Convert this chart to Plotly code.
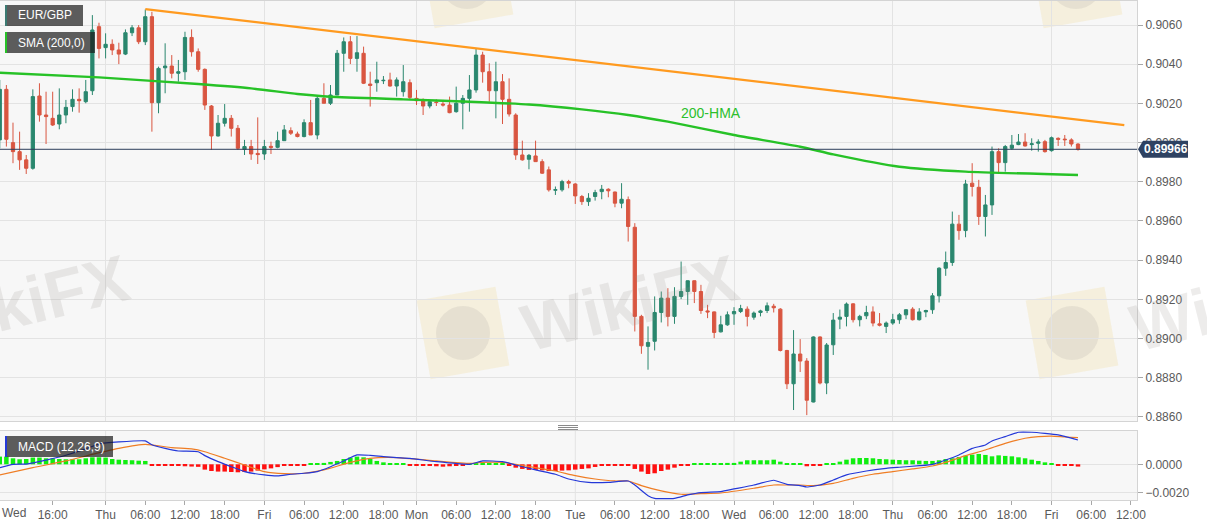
import math
import plotly.graph_objects as go

# ---------------- DATA ----------------
# candle index: 0 = Thu 00:00 (hourly candles, weekend removed)
candle_idx = list(range(-16, 148))

open_ = [
    0.90014, 0.90272, 0.90000, 0.89954, 0.89912, 0.89869, 0.90238, 0.90141, 0.90124, 0.90095,  # -16
    0.90141, 0.90184, 0.90221, 0.90209, 0.90265, 0.90592, 0.90485, 0.90502, 0.90473, 0.90452,  # -6
    0.90561, 0.90586, 0.90515, 0.90643, 0.90204, 0.90382, 0.90391, 0.90354, 0.90362, 0.90537,  # 4
    0.90464, 0.90374, 0.90187, 0.90034, 0.90099, 0.90124, 0.90073, 0.89966, 0.89980, 0.89945,  # 14
    0.89942, 0.89981, 0.89976, 0.90010, 0.90061, 0.90044, 0.90031, 0.90102, 0.90039, 0.90226,  # 24
    0.90201, 0.90243, 0.90456, 0.90515, 0.90430, 0.90456, 0.90299, 0.90306, 0.90316, 0.90320,  # 34
    0.90289, 0.90260, 0.90306, 0.90226, 0.90218, 0.90187, 0.90207, 0.90197, 0.90192, 0.90158,  # 44
    0.90201, 0.90226, 0.90269, 0.90447, 0.90362, 0.90265, 0.90311, 0.90221, 0.90141, 0.89937,  # 54
    0.89915, 0.89932, 0.89903, 0.89861, 0.89757, 0.89759, 0.89801, 0.89789, 0.89725, 0.89699,  # 64
    0.89725, 0.89750, 0.89762, 0.89748, 0.89691, 0.89709, 0.89568, 0.89113, 0.88960, 0.88986,  # 74
    0.89133, 0.89206, 0.89113, 0.89215, 0.89240, 0.89295, 0.89240, 0.89141, 0.89136, 0.89034,  # 84
    0.89070, 0.89126, 0.89138, 0.89150, 0.89109, 0.89133, 0.89143, 0.89165, 0.89150, 0.88939,  # 94
    0.88769, 0.88921, 0.88885, 0.88676, 0.89008, 0.88773, 0.88968, 0.89099, 0.89113, 0.89177,  # 104
    0.89096, 0.89116, 0.89136, 0.89075, 0.89062, 0.89079, 0.89096, 0.89121, 0.89150, 0.89096,  # 114
    0.89136, 0.89147, 0.89218, 0.89359, 0.89388, 0.89584, 0.89551, 0.89793, 0.89772, 0.89623,  # 124
    0.89682, 0.89954, 0.89898, 0.89971, 0.89990, 0.90003, 0.89990, 0.89997, 0.90005, 0.89959,  # 134
    0.90022, 0.90018, 0.90014, 0.89993,  # 144
]
high = [
    0.90320, 0.90294, 0.90102, 0.90056, 0.89937, 0.90272, 0.90303, 0.90260, 0.90260, 0.90277,
    0.90218, 0.90272, 0.90277, 0.90320, 0.90651, 0.90612, 0.90558, 0.90527, 0.90510, 0.90578,
    0.90600, 0.90600, 0.90680, 0.90668, 0.90388, 0.90507, 0.90447, 0.90422, 0.90566, 0.90578,
    0.90481, 0.90379, 0.90192, 0.90141, 0.90197, 0.90141, 0.90090, 0.90014, 0.90014, 0.90129,
    0.90014, 0.90005, 0.90056, 0.90090, 0.90078, 0.90056, 0.90119, 0.90218, 0.90235, 0.90303,
    0.90294, 0.90473, 0.90537, 0.90544, 0.90544, 0.90490, 0.90362, 0.90413, 0.90340, 0.90357,
    0.90333, 0.90396, 0.90323, 0.90269, 0.90226, 0.90218, 0.90221, 0.90218, 0.90235, 0.90286,
    0.90243, 0.90345, 0.90481, 0.90464, 0.90405, 0.90413, 0.90350, 0.90328, 0.90150, 0.90010,
    0.89942, 0.90010, 0.89915, 0.89878, 0.89776, 0.89810, 0.89810, 0.89793, 0.89733, 0.89742,
    0.89759, 0.89784, 0.89767, 0.89750, 0.89793, 0.89725, 0.89589, 0.89121, 0.89062, 0.89215,
    0.89240, 0.89257, 0.89262, 0.89393, 0.89296, 0.89296, 0.89274, 0.89172, 0.89138, 0.89116,
    0.89138, 0.89160, 0.89172, 0.89164, 0.89138, 0.89147, 0.89184, 0.89177, 0.89155, 0.88942,
    0.89043, 0.88997, 0.88900, 0.89011, 0.89011, 0.88977, 0.89130, 0.89148, 0.89184, 0.89180,
    0.89121, 0.89167, 0.89164, 0.89130, 0.89087, 0.89126, 0.89130, 0.89150, 0.89160, 0.89155,
    0.89147, 0.89232, 0.89364, 0.89444, 0.89648, 0.89631, 0.89810, 0.89895, 0.89810, 0.89733,
    0.89980, 0.89971, 0.89988, 0.90039, 0.90044, 0.90048, 0.90022, 0.90017, 0.90014, 0.90031,
    0.90027, 0.90039, 0.90022, 0.89997,
]
low = [
    0.89971, 0.89980, 0.89895, 0.89861, 0.89840, 0.89862, 0.90107, 0.89993, 0.90085, 0.90068,
    0.90099, 0.90158, 0.90153, 0.90201, 0.90243, 0.90430, 0.90430, 0.90447, 0.90401, 0.90447,
    0.90544, 0.90503, 0.90498, 0.90056, 0.90150, 0.90252, 0.90328, 0.90311, 0.90320, 0.90439,
    0.90362, 0.90167, 0.89963, 0.90031, 0.90082, 0.90031, 0.89963, 0.89937, 0.89912, 0.89891,
    0.89912, 0.89942, 0.89971, 0.90010, 0.90039, 0.90027, 0.90027, 0.90039, 0.90017, 0.90201,
    0.90192, 0.90243, 0.90362, 0.90401, 0.90362, 0.90299, 0.90184, 0.90260, 0.90299, 0.90286,
    0.90235, 0.90235, 0.90218, 0.90192, 0.90141, 0.90175, 0.90187, 0.90184, 0.90150, 0.90153,
    0.90068, 0.90158, 0.90255, 0.90306, 0.90209, 0.90124, 0.90095, 0.90133, 0.89912, 0.89908,
    0.89864, 0.89903, 0.89840, 0.89750, 0.89733, 0.89750, 0.89767, 0.89687, 0.89682, 0.89677,
    0.89704, 0.89711, 0.89721, 0.89670, 0.89665, 0.89495, 0.89036, 0.88922, 0.88841, 0.88939,
    0.89082, 0.89062, 0.89075, 0.89201, 0.89172, 0.89181, 0.89126, 0.89104, 0.89002, 0.89031,
    0.89065, 0.89070, 0.89130, 0.89062, 0.89096, 0.89113, 0.89130, 0.89133, 0.88934, 0.88742,
    0.88635, 0.88829, 0.88609, 0.88674, 0.88766, 0.88716, 0.88916, 0.89048, 0.89062, 0.89082,
    0.89062, 0.89099, 0.89062, 0.89062, 0.89028, 0.89070, 0.89075, 0.89099, 0.89092, 0.89092,
    0.89109, 0.89126, 0.89184, 0.89320, 0.89371, 0.89504, 0.89517, 0.89725, 0.89580, 0.89521,
    0.89631, 0.89844, 0.89852, 0.89963, 0.89987, 0.89980, 0.89959, 0.89954, 0.89949, 0.89954,
    0.89983, 0.89983, 0.89980, 0.89959,
]
close = [
    0.90272, 0.90017, 0.89954, 0.89912, 0.89869, 0.90235, 0.90141, 0.90133, 0.90090, 0.90141,
    0.90180, 0.90221, 0.90214, 0.90260, 0.90575, 0.90481, 0.90502, 0.90473, 0.90452, 0.90561,
    0.90586, 0.90515, 0.90643, 0.90204, 0.90379, 0.90391, 0.90354, 0.90362, 0.90537, 0.90464,
    0.90374, 0.90192, 0.90034, 0.90099, 0.90124, 0.90073, 0.89971, 0.89980, 0.89942, 0.89939,
    0.89980, 0.89976, 0.90010, 0.90065, 0.90048, 0.90031, 0.90102, 0.90039, 0.90226, 0.90201,
    0.90243, 0.90456, 0.90515, 0.90430, 0.90459, 0.90303, 0.90292, 0.90320, 0.90318, 0.90289,
    0.90320, 0.90311, 0.90231, 0.90214, 0.90187, 0.90209, 0.90205, 0.90192, 0.90153, 0.90201,
    0.90226, 0.90269, 0.90447, 0.90362, 0.90265, 0.90311, 0.90221, 0.90146, 0.89937, 0.89912,
    0.89935, 0.89903, 0.89844, 0.89759, 0.89760, 0.89801, 0.89793, 0.89728, 0.89699, 0.89716,
    0.89745, 0.89762, 0.89754, 0.89691, 0.89711, 0.89572, 0.89113, 0.88963, 0.88980, 0.89133,
    0.89206, 0.89113, 0.89215, 0.89240, 0.89295, 0.89240, 0.89143, 0.89136, 0.89031, 0.89070,
    0.89121, 0.89138, 0.89153, 0.89113, 0.89130, 0.89141, 0.89167, 0.89157, 0.88939, 0.88769,
    0.88921, 0.88885, 0.88685, 0.89008, 0.88773, 0.88967, 0.89094, 0.89109, 0.89176, 0.89096,
    0.89113, 0.89133, 0.89079, 0.89068, 0.89079, 0.89096, 0.89121, 0.89147, 0.89096, 0.89136,
    0.89143, 0.89218, 0.89359, 0.89388, 0.89584, 0.89551, 0.89789, 0.89776, 0.89623, 0.89682,
    0.89954, 0.89898, 0.89980, 0.89987, 0.90003, 0.89983, 0.89994, 0.90003, 0.89954, 0.90025,
    0.90017, 0.90015, 0.89993, 0.89966,
]

# 200-hour SMA (read at key points)
sma_idx = [-16, -1, 14, 22, 29, 34, 45, 55, 64, 72, 79, 85, 95, 105, 110, 120, 130, 147]
sma_val = [0.90357, 0.90333, 0.90299, 0.90277, 0.90248, 0.90234, 0.90221, 0.90209, 0.90195,
           0.90170, 0.90141, 0.90107, 0.90039, 0.89979, 0.89940, 0.89877, 0.89852, 0.89835]

# descending trendline
trend_idx = [6, 154]
trend_val = [0.90682, 0.90089]

last_price = 0.89966

# MACD (12,26,9)
macd_idx = [-16, -14, -12, -9, -6, -3, -1, 2, 6, 7, 9, 11, 14, 15, 17, 19, 21, 24, 26, 28,
            30, 32, 34, 36, 38, 40, 42, 44, 46, 50, 55, 57, 60, 62, 65, 68, 70, 73, 76, 79,
            80, 82, 83, 86, 88, 90, 93, 95, 98, 101, 103, 105, 106, 108, 110, 112, 115, 118,
            120, 123, 125, 127, 129, 131, 133, 134, 136, 138, 140, 142, 144, 147]
macd_val = [-0.00024, 0.00000, 0.00002, 0.00030, 0.00065, 0.00110, 0.00145, 0.00160, 0.00167,
            0.00140, 0.00114, 0.00095, 0.00090, 0.00062, 0.00019, -0.00017, -0.00052, -0.00076,
            -0.00083, -0.00071, -0.00064, -0.00052, -0.00017, 0.00024, 0.00067, 0.00064, 0.00055,
            0.00048, 0.00043, 0.00019, 0.00000, 0.00024, 0.00019, -0.00005, -0.00040, -0.00071,
            -0.00105, -0.00129, -0.00129, -0.00119, -0.00148, -0.00224, -0.00243, -0.00243,
            -0.00219, -0.00202, -0.00195, -0.00176, -0.00148, -0.00114, -0.00143, -0.00152,
            -0.00162, -0.00148, -0.00112, -0.00076, -0.00048, -0.00029, -0.00021, -0.00010,
            0.00000, 0.00031, 0.00067, 0.00114, 0.00138, 0.00167, 0.00198, 0.00229, 0.00229,
            0.00221, 0.00210, 0.00174]
signal_idx = [-16, -11, -6, -2, 2, 6, 10, 13, 15, 18, 21, 24, 27, 30, 33, 37, 40, 44, 50, 55,
              57, 60, 62, 65, 68, 71, 74, 77, 79, 81, 84, 87, 90, 93, 98, 101, 103, 105, 107,
              110, 113, 116, 119, 122, 125, 127, 130, 133, 136, 139, 141, 143, 145, 147]
signal_val = [-0.00076, -0.00024, 0.00024, 0.00071, 0.00114, 0.00143, 0.00119, 0.00110, 0.00090,
              0.00043, -0.00005, -0.00052, -0.00067, -0.00064, -0.00040, 0.00014, 0.00043,
              0.00048, 0.00024, 0.00007, 0.00014, 0.00014, 0.00000, -0.00024, -0.00048, -0.00081,
              -0.00105, -0.00119, -0.00119, -0.00152, -0.00190, -0.00214, -0.00210, -0.00205,
              -0.00171, -0.00148, -0.00148, -0.00148, -0.00152, -0.00136, -0.00100, -0.00071,
              -0.00052, -0.00033, -0.00012, 0.00014, 0.00062, 0.00102, 0.00150, 0.00186, 0.00198,
              0.00202, 0.00195, 0.00190]
hist_val = [
    0.00055, 0.00055, 0.00043, 0.00036, 0.00038, 0.00048, 0.00048, 0.00043, 0.00043, 0.00038,
    0.00036, 0.00036, 0.00036, 0.00043, 0.00050, 0.00050, 0.00048, 0.00038, 0.00033, 0.00031,
    0.00029, 0.00026, 0.00024, -0.00008, -0.00008, -0.00008, -0.00010, -0.00012, -0.00014, -0.00016,
    -0.00018, -0.00038, -0.00048, -0.00052, -0.00052, -0.00055, -0.00057, -0.00055, -0.00052, -0.00045,
    -0.00036, -0.00029, -0.00020, -0.00012, -0.00008, -0.00008, -0.00008, 0.00008, 0.00008, 0.00010,
    0.00017, 0.00024, 0.00038, 0.00048, 0.00055, 0.00050, 0.00038, 0.00024, 0.00014, 0.00008,
    0.00008, 0.00008, -0.00008, -0.00008, -0.00012, -0.00012, -0.00014, -0.00017, -0.00014, -0.00010,
    -0.00008, 0.00008, 0.00008, 0.00008, 0.00008, 0.00008, 0.00008, -0.00008, -0.00024, -0.00033,
    -0.00040, -0.00040, -0.00043, -0.00048, -0.00048, -0.00045, -0.00043, -0.00038, -0.00033, -0.00029,
    -0.00019, -0.00008, -0.00008, -0.00008, -0.00008, -0.00008, -0.00033, -0.00052, -0.00069, -0.00064,
    -0.00048, -0.00038, -0.00024, -0.00010, -0.00008, 0.00008, 0.00008, 0.00008, 0.00008, 0.00008,
    0.00010, 0.00010, 0.00019, 0.00029, 0.00029, 0.00029, 0.00029, 0.00033, 0.00019, 0.00008,
    0.00008, 0.00008, -0.00014, -0.00008, -0.00008, 0.00008, 0.00008, 0.00019, 0.00033, 0.00043,
    0.00045, 0.00045, 0.00043, 0.00038, 0.00036, 0.00033, 0.00031, 0.00029, 0.00029, 0.00026,
    0.00024, 0.00024, 0.00029, 0.00038, 0.00043, 0.00052, 0.00062, 0.00069, 0.00074, 0.00067,
    0.00057, 0.00064, 0.00060, 0.00057, 0.00050, 0.00043, 0.00033, 0.00024, 0.00014, 0.00008,
    -0.00008, -0.00008, -0.00009, -0.00016,
]

# x-axis ticks
tick_idx = [-16, -8, 0, 6, 12, 18, 24, 30, 36, 42, 47, 53, 59, 65, 71, 77, 83, 89,
            95, 101, 107, 113, 119, 125, 131, 137, 143, 149, 155]
tick_txt = ["", "16:00", "Thu", "06:00", "12:00", "18:00", "Fri", "06:00", "12:00", "18:00",
            "Mon", "06:00", "12:00", "18:00", "Tue", "06:00", "12:00", "18:00", "Wed", "06:00",
            "12:00", "18:00", "Thu", "06:00", "12:00", "18:00", "Fri", "06:00", "12:00"]
day_idx = [0, 24, 47, 71, 95, 119, 143]
price_ticks = [0.8860, 0.8880, 0.8900, 0.8920, 0.8940, 0.8960, 0.8980, 0.9000, 0.9020, 0.9040, 0.9060]
macd_ticks = [-0.0020, 0.0000]

# ---------------- LAYOUT / STYLE ----------------
W, H = 1207, 526
ML, MR, MT, MB = 0, 70, 1, 26
PW, PH = W - ML - MR, H - MT - MB
X0PX, PXPERBAR = 105.6, 6.615          # pixel of index 0, pixels per candle


def px(x):
    return (x - ML) / PW


def py(y):
    return (H - MB - y) / PH


xr = [(0 - X0PX) / PXPERBAR, (PW - X0PX) / PXPERBAR]
yr_main = [0.88579, 0.90723]
yr_macd = [-0.00255, 0.00238]

FONT = "Liberation Sans, Arial, sans-serif"
GRID = "#e3e3e3"
BORDER = "#d4d4d4"
TXT = "#5a5a5a"
UP, DN = "#2a876e", "#d95641"

fig = go.Figure()

fig.add_trace(go.Candlestick(
    x=candle_idx, open=open_, high=high, low=low, close=close,
    increasing=dict(line=dict(color=UP, width=1), fillcolor=UP),
    decreasing=dict(line=dict(color=DN, width=1), fillcolor=DN),
    whiskerwidth=0, xaxis="x", yaxis="y", showlegend=False, hoverinfo="skip"))

fig.add_trace(go.Scatter(x=sma_idx, y=sma_val, mode="lines", line=dict(color="#27c227", width=2.4, shape="spline", smoothing=0.5),
                         xaxis="x", yaxis="y", showlegend=False, hoverinfo="skip"))
fig.add_trace(go.Scatter(x=trend_idx, y=trend_val, mode="lines", line=dict(color="#ff9a1f", width=2.3),
                         xaxis="x", yaxis="y", showlegend=False, hoverinfo="skip"))

bar_colors = ["#10ee10" if v >= 0 else "#ff1010" for v in hist_val]
fig.add_trace(go.Bar(x=candle_idx, y=hist_val, marker=dict(color=bar_colors, line=dict(width=0)),
                     width=0.68, xaxis="x2", yaxis="y2", showlegend=False, hoverinfo="skip"))
fig.add_trace(go.Scatter(x=signal_idx, y=signal_val, mode="lines", line=dict(color="#ef7d24", width=1.2, shape="spline", smoothing=0.5),
                         xaxis="x2", yaxis="y2", showlegend=False, hoverinfo="skip"))
fig.add_trace(go.Scatter(x=macd_idx, y=macd_val, mode="lines", line=dict(color="#2438d8", width=1.2, shape="spline", smoothing=0.5),
                         xaxis="x2", yaxis="y2", showlegend=False, hoverinfo="skip"))

shapes = []
annotations = []

# watermark (behind traces)
def rot_square(cx, cy, half, ang):
    a = math.radians(ang)
    pts = []
    for dx, dy in [(-half, -half), (half, -half), (half, half), (-half, half)]:
        x = cx + dx * math.cos(a) - dy * math.sin(a)
        y = cy + dx * math.sin(a) + dy * math.cos(a)
        pts.append((px(x), py(y)))
    return "M " + " L ".join(f"{x:.5f},{y:.5f}" for x, y in pts) + " Z"

for cx, cy in [(463, 333), (1072, 333), (467, -18), (1076, -18)]:
    shapes.append(dict(type="path", xref="paper", yref="paper", path=rot_square(cx, cy, 40, -10),
                       fillcolor="rgba(240,212,120,0.20)", line=dict(width=0), layer="below"))
    shapes.append(dict(type="circle", xref="paper", yref="paper", x0=px(cx - 27), x1=px(cx + 27),
                       y0=py(cy + 27), y1=py(cy - 27), fillcolor="rgba(150,140,140,0.15)",
                       line=dict(width=0), layer="below"))
for cx, cy in [(20, 303), (629, 303), (1238, 303)]:
    annotations.append(dict(xref="paper", yref="paper", x=px(cx), y=py(cy), text="<b>WikiFX</b>",
                            showarrow=False, textangle=-14, xanchor="center", yanchor="middle",
                            font=dict(family=FONT, size=66, color="rgba(150,140,135,0.17)")))

# vertical day grid lines in MACD panel
for d in day_idx:
    shapes.append(dict(type="line", xref="x2", yref="y2 domain", x0=d, x1=d, y0=0, y1=1,
                       line=dict(color=GRID, width=1), layer="below"))

# last price line
shapes.append(dict(type="line", xref="paper", yref="y", x0=0, x1=1, y0=last_price, y1=last_price,
                   line=dict(color="#2b3d5a", width=1), layer="above"))
shapes.append(dict(type="path", xref="paper", yref="y", xsizemode="pixel", ysizemode="pixel",
                   xanchor=1, yanchor=last_price,
                   path="M 1,0 L 6,8.5 L 51,8.5 L 51,-8.5 L 6,-8.5 Z",
                   fillcolor="#2e4262", line=dict(width=0), layer="above"))
annotations.append(dict(xref="paper", yref="y", x=px(1166), y=last_price, text="<b>0.89966</b>",
                        showarrow=False, xanchor="center", yanchor="middle",
                        font=dict(family=FONT, size=12, color="white")))

# legend boxes
def label_box(x0, y0, x1, y1, stripe, text):
    shapes.append(dict(type="rect", xref="paper", yref="paper", x0=px(x0), x1=px(x1), y0=py(y1), y1=py(y0),
                       fillcolor="rgba(25,25,25,0.70)", line=dict(width=0), layer="above"))
    shapes.append(dict(type="rect", xref="paper", yref="paper", x0=px(x0), x1=px(x0 + 2), y0=py(y1), y1=py(y0),
                       fillcolor=stripe, line=dict(width=0), layer="above"))
    annotations.append(dict(xref="paper", yref="paper", x=px(x0 + 11), y=py((y0 + y1) / 2), text=text,
                            showarrow=False, xanchor="left", yanchor="middle",
                            font=dict(family=FONT, size=12, color="white")))

label_box(5, 5, 83, 26, "#3b7a72", "EUR/GBP")
label_box(5, 32, 95, 53, "#27c227", "SMA (200,0)")
label_box(5, 436, 113, 457, "#2438d8", "MACD (12,26,9)")

# 200-HMA label
annotations.append(dict(xref="x", yref="y", x=91.5, y=0.90151, text="200-HMA", showarrow=False,
                        font=dict(family=FONT, size=14, color="#2cbf2c")))

# first x label "Wed" (at the left edge)
annotations.append(dict(xref="paper", yref="paper", x=0, y=py(513), text="Wed", showarrow=False,
                        xanchor="left", yanchor="middle", font=dict(family=FONT, size=12, color=TXT)))

# panel resize grip
for yy in [425.5, 427.5, 429.5]:
    shapes.append(dict(type="line", xref="paper", yref="paper", x0=px(558), x1=px(578), y0=py(yy), y1=py(yy),
                       line=dict(color="#8a8a8a", width=1), layer="above"))

fig.update_layout(
    width=W, height=H,
    margin=dict(l=ML, r=MR, t=MT, b=MB),
    paper_bgcolor="white", plot_bgcolor="#f7f7f7",
    showlegend=False, hovermode=False, boxgap=0.3, bargap=0.3,
    font=dict(family=FONT, size=12, color=TXT),
    shapes=shapes, annotations=annotations,
    xaxis=dict(domain=[0, 1], anchor="y", range=xr, tickvals=day_idx, showticklabels=False, ticks="",
               showgrid=True, gridcolor=GRID, zeroline=False, showline=True, mirror=True,
               linecolor=BORDER, rangeslider=dict(visible=False), fixedrange=True),
    yaxis=dict(domain=[py(421), 1], anchor="x", side="right", range=yr_main, tickvals=price_ticks,
               tickformat=".4f", showgrid=True, gridcolor=GRID, zeroline=False, ticks="outside",
               ticklen=5, tickcolor="#a8a8a8", showline=True, mirror=True, linecolor=BORDER,
               tickfont=dict(family=FONT, size=12, color=TXT)),
    xaxis2=dict(domain=[0, 1], anchor="y2", range=xr, tickvals=tick_idx, ticktext=tick_txt,
                showgrid=False, zeroline=False, ticks="outside", ticklen=4, tickcolor="#a8a8a8",
                showline=True, mirror=True, linecolor=BORDER,
                tickfont=dict(family=FONT, size=12, color=TXT)),
    yaxis2=dict(domain=[0, py(431)], anchor="x2", side="right", range=yr_macd, tickvals=macd_ticks,
                tickformat=".4f", showgrid=True, gridcolor=GRID, zeroline=False, ticks="outside",
                ticklen=5, tickcolor="#a8a8a8", showline=True, mirror=True, linecolor=BORDER,
                tickfont=dict(family=FONT, size=12, color=TXT)),
)

fig.write_html("out.html", config={"displayModeBar": False},
               post_script="document.body.style.margin='0px';document.body.style.overflow='hidden';")
